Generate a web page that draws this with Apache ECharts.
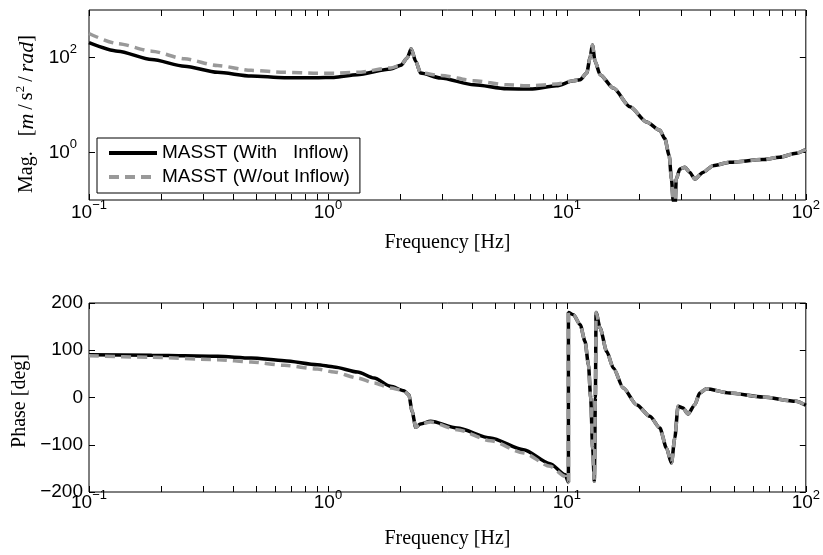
<!DOCTYPE html>
<html>
<head>
  <meta charset="utf-8">
  <script src="https://cdn.jsdelivr.net/npm/echarts@6.0.0/dist/echarts.min.js"></script>
  <style>
    html, body { margin: 0; padding: 0; background: #fff; }
  </style>
</head>
<body>
  <div id="main" style="width: 823px; height: 555px"></div>
  <script type="text/javascript">
    var myChart = echarts.init(document.getElementById('main'));

    // frequency points [Hz] for the magnitude plot
    var freqMag = [0.1, 0.132, 0.183, 0.251, 0.345, 0.477, 0.657, 0.902, 1.06, 1.325,
      1.83, 2.02, 2.15, 2.23, 2.33, 2.44, 2.96, 4.08, 5.6, 7.03,
      9.05, 10.65, 11.37, 12.11, 12.5, 12.79, 13.12, 13.77, 15.65, 18.37,
      21.55, 24.5, 25.7, 26.8, 27.4, 27.85, 28.2, 28.7, 29.7, 31.2,
      32.7, 34.3, 37.1, 40.9, 48, 66.1, 77.6, 91, 100];
    var magWith = [205, 136, 90.6, 65.3, 48.7, 40.8, 37.5, 37.5, 38.1, 43.5,
      57.5, 68.6, 98.6, 153, 83.4, 47.2, 37, 26.6, 21.9, 21.6,
      25.4, 32.4, 34, 47.2, 98.6, 183, 83.4, 43.5, 22.7, 9.2,
      4.41, 2.94, 1.96, 0.863, 0.276, 0.0955, 0.03, 0.276, 0.45, 0.487,
      0.381, 0.276, 0.381, 0.529, 0.622, 0.71, 0.794, 0.966, 1.16];
    var magWithout = [320, 196, 136, 93.8, 67.6, 53.7, 48.7, 46.5, 46.5, 48.7,
      60.4, 68.6, 98.6, 153, 83.4, 47.2, 42, 32.4, 26.6, 25.4,
      27.6, 32.4, 34, 47.2, 98.6, 183, 83.4, 43.5, 22.7, 9.2,
      4.41, 2.94, 1.96, 0.863, 0.276, 0.0955, 0.03, 0.276, 0.45, 0.487,
      0.381, 0.276, 0.381, 0.529, 0.622, 0.71, 0.794, 0.966, 1.16];

    // frequency points [Hz] for the phase plot
    var freqPhase = [0.1, 0.183, 0.346, 0.477, 0.657, 0.903, 1.06, 1.33, 1.56, 1.83,
      2.08, 2.18, 2.25, 2.33, 2.44, 2.69, 3.47, 4.79, 6.59, 8.51,
      9.84, 10.15, 10.15, 10.65, 11.37, 11.91, 12.31, 12.58, 12.82, 13.03,
      13.16, 13.25, 13.77, 14.67, 15.65, 17.22, 19.57, 22.26, 24.5, 26.11,
      27.4, 28.29, 29.19, 30.63, 32.14, 34.3, 35.97, 38.34, 48, 66.1,
      91, 100];
    var phaseWith = [90.6, 89.3, 87.2, 83.6, 77.9, 69.4, 64.6, 54, 41.3, 23.7,
      14.4, 5.9, -29.2, -63, -56, -50.4, -64.6, -85.7, -110.4, -140,
      -163.3, -179, 180, 175, 154, 119, 69.4, -1, -107, -177,
      0, 180, 147, 97.7, 62.4, 20.1, -15.2, -39.8, -64.6, -107,
      -138.6, -85.7, -18.6, -22.2, -34.9, -15.2, 9.5, 18.6, 9.5, 1,
      -8, -16.5];
    var phaseWithout = [88.5, 85, 80, 75.1, 68.1, 60.3, 54, 41.3, 30.7, 20.1,
      14.4, 5.9, -29.2, -63, -56, -52, -68, -91.4, -117.5, -145.6,
      -167, -180, 180, 175, 154, 119, 69.4, -1, -107, -177,
      0, 180, 147, 97.7, 62.4, 20.1, -15.2, -39.8, -64.6, -107,
      -138.6, -85.7, -18.6, -22.2, -34.9, -15.2, 9.5, 18.6, 9.5, 1,
      -8, -16.5];

    // ticks
    var freqTicks = [0.1, 0.2, 0.3, 0.4, 0.5, 0.6, 0.7, 0.8, 0.9,
      1, 2, 3, 4, 5, 6, 7, 8, 9,
      10, 20, 30, 40, 50, 60, 70, 80, 90, 100];
    var freqLabels = [0.1, 1, 10, 100];
    var magTicks = [1, 100];
    var seriesNames = ['MASST (With   Inflow)', 'MASST (W/out Inflow)'];

    var sansFont = 'Liberation Sans';
    var serifFont = 'Liberation Serif';

    function zip(xs, ys) {
      return xs.map(function (x, i) { return [x, ys[i]]; });
    }

    // 10^n labels
    function powLabel(v) {
      var e = Math.round(Math.log(v) / Math.LN10);
      return '{b|10}{e|' + String(e).replace('-', '\u2212') + '}';
    }
    var powRich = {
      b: { fontFamily: sansFont, fontSize: 19, color: '#000', lineHeight: 22 },
      e: { fontFamily: sansFont, fontSize: 13, color: '#000', lineHeight: 13, padding: [0, 0, 16, 0] }
    };

    var tickStyle = { color: '#000', width: 1 };

    function freqAxis(gridIndex, pos, withLabels, margin, gap) {
      return {
        gridIndex: gridIndex,
        type: 'log',
        logBase: 10,
        min: 0.1,
        max: 100,
        position: pos,
        axisLine: { show: false, onZero: false },
        axisTick: { show: true, inside: true, length: 6, customValues: freqTicks, lineStyle: tickStyle },
        axisLabel: withLabels ? {
          show: true, customValues: freqLabels, formatter: powLabel, rich: powRich, margin: margin
        } : { show: false },
        splitLine: { show: false },
        name: withLabels ? 'Frequency [Hz]' : '',
        nameLocation: 'middle',
        nameGap: gap,
        nameTextStyle: { fontFamily: serifFont, fontSize: 20, color: '#000' }
      };
    }

    function lineSeries(name, xi, yi, data, gray) {
      return {
        name: name,
        type: 'line',
        xAxisIndex: xi,
        yAxisIndex: yi,
        data: data,
        symbol: 'none',
        smooth: 0.25,
        smoothMonotone: 'x',
        z: gray ? 3 : 2,
        lineStyle: gray
          ? { color: '#999999', width: 3.5, type: [10, 6], cap: 'butt' }
          : { color: '#000000', width: 3.5 },
        itemStyle: { color: gray ? '#999999' : '#000000' }
      };
    }

    var thin = '\u2009';

    myChart.setOption({
      animation: false,
      backgroundColor: '#fff',
      grid: [
        { left: 89, top: 10, width: 719, height: 190, show: true, borderColor: '#000', borderWidth: 1, backgroundColor: '#fff' },
        { left: 89, top: 303, width: 719, height: 189, show: true, borderColor: '#000', borderWidth: 1, backgroundColor: '#fff' }
      ],
      legend: {
        data: seriesNames,
        orient: 'vertical',
        left: 97,
        top: 138,
        padding: [5, 10, 6, 10],
        itemGap: 4,
        itemWidth: 48,
        itemHeight: 14,
        backgroundColor: '#fff',
        borderColor: '#000',
        borderWidth: 1,
        borderRadius: 0,
        selectedMode: false,
        itemStyle: { opacity: 0, borderWidth: 0 },
        lineStyle: { width: 4 },
        textStyle: { fontFamily: sansFont, fontSize: 19, color: '#000', lineHeight: 20 }
      },
      xAxis: [
        freqAxis(0, 'bottom', true, 2, 33),
        freqAxis(0, 'top', false, 0, 0),
        freqAxis(1, 'bottom', true, 0, 37),
        freqAxis(1, 'top', false, 0, 0)
      ],
      yAxis: [
        {
          gridIndex: 0, type: 'log', logBase: 10, min: 0.1, max: 1000, position: 'left',
          axisLine: { show: false, onZero: false },
          axisTick: { inside: true, length: 6, customValues: magTicks, lineStyle: tickStyle },
          axisLabel: { customValues: magTicks, formatter: powLabel, rich: powRich, margin: 12 },
          splitLine: { show: false },
          name: 'Mag.   [{i|m}' + thin + '/' + thin + 's{s|2}' + thin + '/' + thin + '{i|rad}]',
          nameLocation: 'middle',
          nameGap: 47,
          nameTextStyle: {
            fontFamily: serifFont, fontSize: 20, color: '#000', padding: [0, 18, 0, 0],
            rich: {
              i: { fontFamily: serifFont, fontSize: 22, fontStyle: 'italic', color: '#000' },
              s: { fontFamily: serifFont, fontSize: 13, color: '#000', padding: [0, 0, 12, 0] }
            }
          }
        },
        {
          gridIndex: 0, type: 'log', logBase: 10, min: 0.1, max: 1000, position: 'right',
          axisLine: { show: false, onZero: false },
          axisTick: { inside: true, length: 6, customValues: magTicks, lineStyle: tickStyle },
          axisLabel: { show: false },
          splitLine: { show: false }
        },
        {
          gridIndex: 1, type: 'value', min: -200, max: 200, interval: 100, position: 'left',
          axisLine: { show: false, onZero: false },
          axisTick: { inside: true, length: 6, lineStyle: tickStyle },
          axisLabel: {
            fontFamily: sansFont, fontSize: 19, color: '#000', margin: 6,
            formatter: function (v) { return String(v).replace('-', '\u2212'); }
          },
          splitLine: { show: false },
          name: 'Phase [deg]',
          nameLocation: 'middle',
          nameGap: 53,
          nameTextStyle: { fontFamily: serifFont, fontSize: 20, color: '#000', padding: [0, 7, 0, 0] }
        },
        {
          gridIndex: 1, type: 'value', min: -200, max: 200, interval: 100, position: 'right',
          axisLine: { show: false, onZero: false },
          axisTick: { inside: true, length: 6, lineStyle: tickStyle },
          axisLabel: { show: false },
          splitLine: { show: false }
        }
      ],
      series: [
        lineSeries(seriesNames[0], 0, 0, zip(freqMag, magWith), false),
        lineSeries(seriesNames[1], 0, 0, zip(freqMag, magWithout), true),
        lineSeries(seriesNames[0], 2, 2, zip(freqPhase, phaseWith), false),
        lineSeries(seriesNames[1], 2, 2, zip(freqPhase, phaseWithout), true)
      ]
    });
  </script>
</body>
</html>
